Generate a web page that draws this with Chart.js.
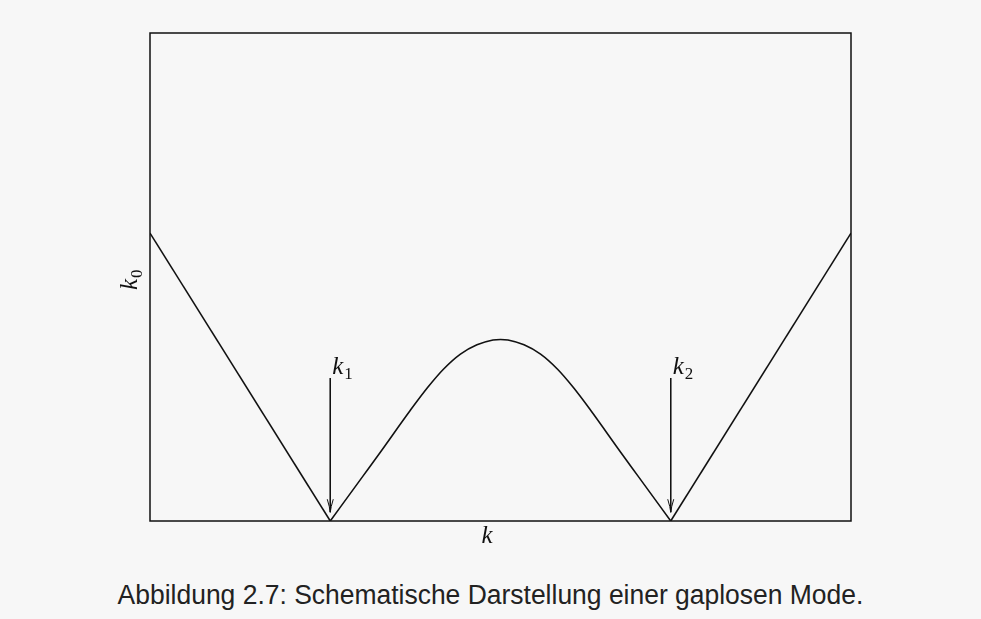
<!DOCTYPE html>
<html>
<head>
<meta charset="utf-8">
<script src="https://cdn.jsdelivr.net/npm/chart.js@4.4.1/dist/chart.umd.min.js"></script>
<style>
  html, body { margin: 0; padding: 0; background: #f7f7f7; }
  #wrap { width: 981px; height: 619px; position: relative; overflow: hidden; }
  #caption {
    position: absolute; left: 0; width: 981px; top: 580px;
    text-align: center; font-family: "Liberation Sans", Arial, sans-serif;
    font-size: 27px; line-height: 31px; color: #222;
    transform: scaleX(0.98);
  }
</style>
</head>
<body>
<div id="wrap">
  <canvas id="myChart" width="981" height="560"></canvas>
  <div id="caption">Abbildung 2.7: Schematische Darstellung einer gaplosen Mode.</div>
</div>
<script>
// dispersion branches (k, k0)
const leftK = [-3.5, -1.7];
const leftK0 = [0.59, 0];
const arcK = [-1.7, -1.37, -1.2, -0.9, -0.73, -0.57, -0.4, -0.235, -0.075, 0,
              0.075, 0.235, 0.4, 0.57, 0.73, 0.9, 1.2, 1.37, 1.7];
const arcK0 = [0, 0.093, 0.141, 0.227, 0.273, 0.311, 0.342, 0.361, 0.371, 0.372,
               0.371, 0.361, 0.342, 0.311, 0.273, 0.227, 0.141, 0.093, 0];
const rightK = [1.7, 3.5];
const rightK0 = [0, 0.59];

// arrows marking the gapless points
const markK = [-1.7, 1.7];
const markLabels = ['1', '2'];
const arrowTop = 0.293;
const arrowTip = 0.018;

const pts = (xs, ys) => xs.map((x, i) => ({ x: x, y: ys[i] }));

const line = (d, extra) => Object.assign({
    data: d,
    borderColor: '#111',
    borderWidth: 1.6,
    pointRadius: 0,
    fill: false
}, extra || {});

const datasets = [
    line(pts(leftK, leftK0)),
    line(pts(arcK, arcK0), { cubicInterpolationMode: 'monotone' }),
    line(pts(rightK, rightK0))
];
markK.forEach(k => {
    datasets.push(line([{ x: k, y: arrowTop }, { x: k, y: arrowTip }], { borderWidth: 1 }));
});

const serif = '"Liberation Serif", "DejaVu Serif", serif';

// box, arrow heads and math labels
const decor = {
    id: 'decor',
    afterDatasetsDraw(chart) {
        const ctx = chart.ctx;
        const a = chart.chartArea;
        const xs = chart.scales.x, ys = chart.scales.y;
        ctx.save();
        ctx.strokeStyle = '#111';
        ctx.lineWidth = 1.5;
        ctx.strokeRect(a.left, a.top, a.right - a.left, a.bottom - a.top);

        ctx.fillStyle = '#111';
        markK.forEach((k, i) => {
            const x = xs.getPixelForValue(k);
            const tip = ys.getPixelForValue(arrowTip);
            ctx.lineWidth = 1;
            ctx.beginPath();
            ctx.moveTo(x - 3, tip - 13);
            ctx.quadraticCurveTo(x - 0.5, tip - 5, x, tip);
            ctx.quadraticCurveTo(x + 0.5, tip - 5, x + 3, tip - 13);
            ctx.stroke();
            // label k_i
            const ty = ys.getPixelForValue(arrowTop) - 4;
            ctx.font = 'italic 25px ' + serif;
            ctx.textBaseline = 'alphabetic';
            ctx.textAlign = 'left';
            ctx.fillText('k', x + 2, ty);
            ctx.font = '17px ' + serif;
            ctx.fillText(markLabels[i], x + 14, ty + 5);
        });

        // x axis title
        ctx.font = 'italic 25px ' + serif;
        ctx.textAlign = 'left';
        ctx.fillText('k', (a.left + a.right) / 2 - 19, a.bottom + 22);

        // y axis title, rotated
        ctx.translate(a.left - 13, (a.top + a.bottom) / 2);
        ctx.rotate(-Math.PI / 2);
        ctx.font = 'italic 25px ' + serif;
        ctx.fillText('k', -13, 0);
        ctx.font = '17px ' + serif;
        ctx.fillText('0', -1, 5);
        ctx.restore();
    }
};

new Chart('myChart', {
    type: 'line',
    data: { datasets: datasets },
    options: {
        responsive: false,
        animation: false,
        layout: { padding: { left: 150, right: 130, top: 33, bottom: 39 } },
        plugins: { legend: { display: false }, tooltip: { enabled: false } },
        scales: {
            x: { type: 'linear', min: -3.5, max: 3.5, display: false },
            y: { type: 'linear', min: 0, max: 1, display: false }
        }
    },
    plugins: [decor]
});
</script>
</body>
</html>
